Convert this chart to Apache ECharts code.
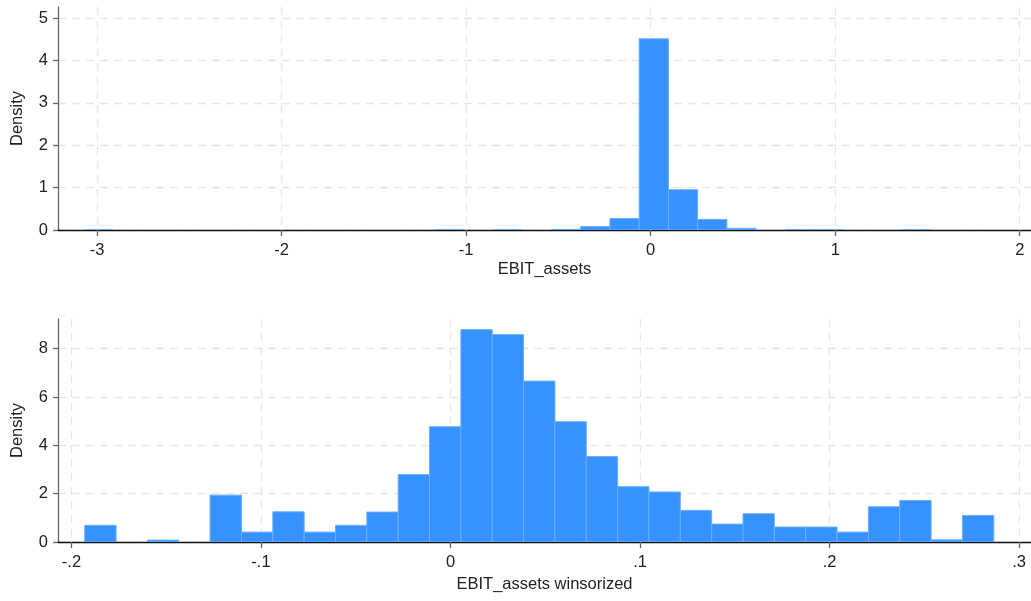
<!DOCTYPE html>
<html><head><meta charset="utf-8">
<script src="https://cdn.jsdelivr.net/npm/echarts@6/dist/echarts.min.js"></script>
<style>html,body{margin:0;padding:0;background:#fff}#c{width:1031px;height:601px}</style>
</head><body><div id="c"></div>
<script>
// ---- data ----
const topFirstEdge = -3.072;
const topBinWidth = 0.1584;
const topDensity = [0.008,0,0,0,0,0,0,0,0,0,0,0,0.008,0,0.008,0,0.016,0.08,0.27,4.51,0.95,0.25,0.04,0,0.008,0.008,0,0,0.008];
const botFirstEdge = -0.193;
const botBinWidth = 0.01654;
const botDensity = [0.69,0,0.08,0,1.94,0.41,1.25,0.41,0.69,1.24,2.79,4.77,8.79,8.59,6.66,4.98,3.54,2.29,2.07,1.31,0.74,1.17,0.62,0.62,0.41,1.46,1.72,0.09,1.10];
const topXTicks = [-3,-2,-1,0,1,2];
const topYTicks = [0,1,2,3,4,5];
const botXTicks = [-0.2,-0.1,0,0.1,0.2,0.3];
const botYTicks = [0,2,4,6,8];
const topXName = 'EBIT_assets';
const botXName = 'EBIT_assets winsorized';
const yName = 'Density';

function bins(first, w, dens){
  return dens.map((d,i)=>[first+i*w, first+(i+1)*w, d]);
}
const FONT = "'Liberation Sans', Arial, sans-serif";
const TXT = '#222';
const GRIDC = '#e6e6e6';
const TICKFS = 16.5, NAMEFS = 16.5;

function renderBar(params, api){
  const x0 = api.value(0), x1 = api.value(1), y = api.value(2);
  if (!y) return null;
  const p0 = api.coord([x0, 0]);
  const p1 = api.coord([x1, y]);
  return {type:'rect', shape:{x:p0[0], y:p1[1], width:p1[0]-p0[0], height:p0[1]-p1[1]},
    style:{fill:'#3592fe', stroke:'#6aaeff', lineWidth:1}};
}
function fmtDot(v){
  if (Math.abs(v) < 1e-9) return '0';
  return (Math.round(v*10)/10).toFixed(1).replace(/^(-?)0\./,'$1.');
}
function xAxis(idx, min, max, ticks, name, fmt, nameGap){
  return {type:'value', gridIndex:idx, min:min, max:max,
    name:name, nameLocation:'middle', nameGap:nameGap,
    nameTextStyle:{fontFamily:FONT, fontSize:NAMEFS, color:TXT},
    axisLine:{show:true, onZero:false, lineStyle:{color:'#111', width:1.3}},
    axisTick:{show:true, length:6, customValues:ticks, lineStyle:{color:'#666', width:1.3}},
    axisLabel:{customValues:ticks, margin:12, fontFamily:FONT, fontSize:TICKFS, color:TXT, formatter:fmt},
    splitLine:{show:true, lineStyle:{color:GRIDC, type:[8,6], width:1.3}}
  };
}
function yAxis(idx, min, max, ticks){
  return {type:'value', gridIndex:idx, min:min, max:max,
    name:yName, nameLocation:'middle', nameGap:32,
    nameTextStyle:{fontFamily:FONT, fontSize:NAMEFS, color:TXT},
    axisLine:{show:true, onZero:false, lineStyle:{color:'#666', width:1.3}},
    axisTick:{show:true, length:5, customValues:ticks, lineStyle:{color:'#666', width:1.3}},
    axisLabel:{customValues:ticks, margin:10, fontFamily:FONT, fontSize:TICKFS, color:TXT},
    splitLine:{show:true, lineStyle:{color:GRIDC, type:[8,6], width:1.3}}
  };
}
const chart = echarts.init(document.getElementById('c'), null, {renderer:'canvas'});
chart.setOption({
  animation:false,
  backgroundColor:'#fff',
  grid:[
    {left:58, top:7, width:973, height:223, containLabel:false},
    {left:58, top:319, width:973, height:223, containLabel:false}
  ],
  xAxis:[
    xAxis(0, -3.212, 2.061, topXTicks, topXName, v=>String(v), 31),
    xAxis(1, -0.2071, 0.3063, botXTicks, botXName, fmtDot, 34)
  ],
  yAxis:[
    yAxis(0, 0, 5.26, topYTicks),
    yAxis(1, 0, 9.23, botYTicks)
  ],
  series:[
    {type:'custom', xAxisIndex:0, yAxisIndex:0, renderItem:renderBar,
     encode:{x:[0,1], y:2}, data:bins(topFirstEdge, topBinWidth, topDensity), clip:true},
    {type:'custom', xAxisIndex:1, yAxisIndex:1, renderItem:renderBar,
     encode:{x:[0,1], y:2}, data:bins(botFirstEdge, botBinWidth, botDensity), clip:true}
  ]
});
</script></body></html>
